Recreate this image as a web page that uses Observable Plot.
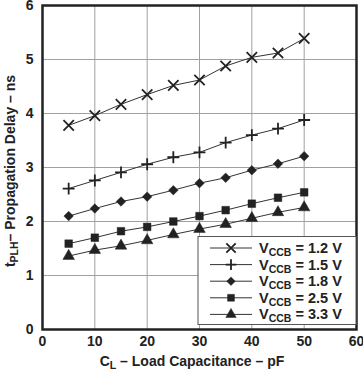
<!DOCTYPE html>
<html><head><meta charset="utf-8">
<script src="https://cdn.jsdelivr.net/npm/d3@7"></script>
<script src="https://cdn.jsdelivr.net/npm/@observablehq/plot@0.6"></script>
<style>
body{margin:0;background:#fff;}
svg{font-family:"Liberation Sans",Arial,sans-serif;}
</style>
</head><body><div id="chart"></div>
<script>
const capacitance = [5,10,15,20,25,30,35,40,45,50];
const seriesNames = ["1.2 V","1.5 V","1.8 V","2.5 V","3.3 V"];
const v12 = [3.78,3.96,4.17,4.35,4.52,4.62,4.88,5.04,5.12,5.39];
const v15 = [2.61,2.76,2.91,3.06,3.19,3.28,3.46,3.60,3.72,3.88];
const v18 = [2.10,2.24,2.37,2.46,2.58,2.71,2.81,2.95,3.07,3.21];
const v25 = [1.59,1.70,1.82,1.90,2.00,2.10,2.21,2.33,2.44,2.54];
const v33 = [1.36,1.47,1.55,1.65,1.76,1.86,1.95,2.06,2.17,2.26];
const xTicks = [0,10,20,30,40,50,60];
const yTicks = [0,1,2,3,4,5,6];
const symbols = ["times","plus","diamond2","square","triangle"];
const symbolR = [4.8,3.9,4.3,4.3,4.3];
const filled = [false,false,true,true,true];

const allValues = [v12,v15,v18,v25,v33];
const rows = [];
allValues.forEach((vals,si)=>vals.forEach((v,i)=>rows.push({s:si,x:capacitance[i],y:v})));

const W=363,H=372,ML=42,MR=7,MT=5,MB=43;
const ink="#222";
const marks = [
  Plot.gridX(xTicks,{stroke:"#a0a0a0",strokeOpacity:1,strokeWidth:1}),
  Plot.gridY(yTicks,{stroke:"#a0a0a0",strokeOpacity:1,strokeWidth:1}),
  Plot.axisX(xTicks,{tickSize:0,tickPadding:7,fontSize:14,fontWeight:"bold",fill:ink,label:null,tickFormat:d3.format("d")}),
  Plot.axisY(yTicks,{tickSize:0,tickPadding:9,fontSize:14,fontWeight:"bold",fill:ink,label:null,tickFormat:d3.format("d")})
];
allValues.forEach((vals,si)=>{
  const d = rows.filter(r=>r.s===si);
  marks.push(Plot.line(d,{x:"x",y:"y",stroke:"#333",strokeWidth:1}));
  marks.push(Plot.dot(d,{x:"x",y:"y",symbol:()=>symbols[si],r:symbolR[si],
    fill:filled[si]?ink:"none",stroke:ink,strokeWidth:filled[si]?0.5:1.8}));
});
marks.push(Plot.frame({stroke:ink,strokeWidth:2.5}));

const plot = Plot.plot({
  width:W,height:H,marginLeft:ML,marginRight:MR,marginTop:MT,marginBottom:MB,
  x:{domain:[0,60]},y:{domain:[0,6]},
  symbol:{type:"identity"},
  style:{fontFamily:"Liberation Sans, Arial, sans-serif",background:"#fff"},
  marks
});
document.getElementById("chart").appendChild(plot);

const svg = d3.select(plot);
const xs = plot.scale("x"), ys = plot.scale("y");
// axis titles with subscripts
const xt = svg.append("text").attr("x",(xs.apply(0)+xs.apply(60))/2-7).attr("y",H-6)
  .attr("text-anchor","middle").attr("font-size",14).attr("font-weight","bold").attr("fill",ink);
xt.append("tspan").text("C");
xt.append("tspan").text("L").attr("font-size",10.5).attr("dy",3);
xt.append("tspan").text(" – Load Capacitance – pF").attr("dy",-3);

const yt = svg.append("text").attr("transform",`translate(15,${(ys.apply(0)+ys.apply(6))/2+4}) rotate(-90)`)
  .attr("text-anchor","middle").attr("font-size",14).attr("font-weight","bold").attr("fill",ink);
yt.append("tspan").text("t");
yt.append("tspan").text("PLH").attr("font-size",10.5).attr("dy",3);
yt.append("tspan").text("– Propagation Delay – ns").attr("dy",-3);

// legend
const lg = svg.append("g").attr("text-anchor","start");
const bx=198, by=236.5, bw=158, bh=88;
lg.append("rect").attr("x",bx).attr("y",by).attr("width",bw).attr("height",bh)
  .style("fill","#ffffff").style("stroke","#555").style("stroke-width","1px");
const d3syms = {times:d3.symbolTimes,plus:d3.symbolPlus,diamond2:d3.symbolDiamond2,square:d3.symbolSquare,triangle:d3.symbolTriangle};
seriesNames.forEach((name,i)=>{
  const cy = by+11.5+i*16.6;
  lg.append("line").attr("x1",bx+12).attr("x2",bx+54).attr("y1",cy).attr("y2",cy).attr("stroke","#333").attr("stroke-width",1);
  const rr = symbolR[i]*0.9;
  lg.append("path").attr("transform",`translate(${bx+33},${cy})`)
    .attr("d",d3.symbol(d3syms[symbols[i]],Math.PI*rr*rr)())
    .attr("fill",filled[i]?ink:"none").attr("stroke",ink).attr("stroke-width",filled[i]?0.5:1.8);
  const t = lg.append("text").attr("x",bx+61).attr("y",cy+5).attr("text-anchor","start")
    .attr("font-size",14.5).attr("font-weight","bold").attr("fill",ink);
  t.append("tspan").text("V");
  t.append("tspan").text("CCB").attr("font-size",10.5).attr("dy",3);
  t.append("tspan").text(" = "+name).attr("dy",-3);
});
</script></body></html>
